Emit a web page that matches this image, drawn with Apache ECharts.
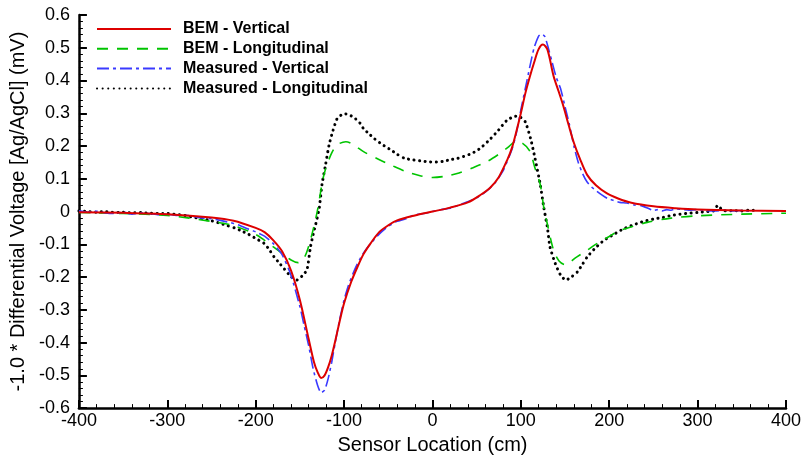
<!DOCTYPE html>
<html>
<head>
<meta charset="utf-8">
<script src="https://cdn.jsdelivr.net/npm/echarts@6/dist/echarts.min.js"></script>
<style>
html,body{margin:0;padding:0;background:#fff;}
#chart{width:805px;height:460px;}
</style>
</head>
<body>
<div id="chart"></div>
<script>
// ---- Data ----
const seriesNames = ['BEM - Vertical', 'BEM - Longitudinal', 'Measured - Vertical', 'Measured - Longitudinal'];

const bemVertX = [-400,-350,-300,-250,-225,-200,-190,-180,-170,-160,-150,-140,-134,-130,-126,-122,-118,-114,-110,-105,-100,-92,-85,-78,-70,-60,-50,-40,-20,0,20,40,55,65,75,85,90,95,100,105,110,115,120,125,130,137,143,148,154,160,167,175,185,197,210,225,250,275,300,350,400];
const bemVertY = [-0.002,-0.004,-0.008,-0.018,-0.028,-0.05,-0.063,-0.088,-0.122,-0.18,-0.27,-0.39,-0.46,-0.49,-0.508,-0.5,-0.475,-0.44,-0.395,-0.335,-0.28,-0.215,-0.17,-0.13,-0.097,-0.062,-0.042,-0.027,-0.012,0.0,0.012,0.028,0.052,0.072,0.105,0.16,0.195,0.245,0.30,0.36,0.41,0.455,0.495,0.51,0.495,0.414,0.365,0.323,0.265,0.21,0.16,0.112,0.08,0.056,0.04,0.027,0.016,0.01,0.006,0.003,0.002];

const bemLongX = [-400,-350,-300,-250,-225,-200,-190,-180,-170,-160,-152,-145,-140,-135,-130,-123,-115,-108,-98,-90,-78,-60,-47,-30,-15,0,15,30,45,62,75,85,94,102,110,116,122,126,130,137,143,150,163,175,186,200,212,243,270,300,350,400];
const bemLongY = [-0.003,-0.006,-0.012,-0.03,-0.043,-0.07,-0.088,-0.108,-0.128,-0.148,-0.156,-0.14,-0.105,-0.055,0.005,0.11,0.173,0.203,0.213,0.205,0.183,0.158,0.142,0.122,0.11,0.104,0.108,0.118,0.133,0.153,0.175,0.195,0.213,0.208,0.185,0.133,0.082,0.012,-0.038,-0.118,-0.15,-0.162,-0.139,-0.118,-0.098,-0.076,-0.058,-0.033,-0.02,-0.013,-0.008,-0.005];

const measVertX = [-400,-390,-380,-370,-360,-350,-340,-330,-320,-310,-300,-290,-280,-270,-260,-250,-240,-230,-220,-210,-200,-190,-180,-170,-160,-150,-145,-140,-135,-130,-126,-122,-118,-114,-110,-105,-100,-95,-90,-85,-80,-75,-70,-60,-50,-40,-30,-20,-10,0,10,20,30,40,50,60,70,80,90,95,100,105,110,115,120,123,127,131,135,140,145,150,155,160,165,170,175,180,186,192,198,205,212,220,228,236,244,250,255,260,265,270,275,280,290,300,310,320,330,340,350,357,363];
const measVertY = [0.002,-0.002,0.001,-0.004,-0.006,-0.002,-0.008,-0.004,-0.006,-0.01,-0.008,-0.012,-0.011,-0.015,-0.02,-0.022,-0.027,-0.033,-0.04,-0.052,-0.062,-0.075,-0.098,-0.132,-0.195,-0.29,-0.35,-0.41,-0.48,-0.53,-0.553,-0.545,-0.51,-0.46,-0.4,-0.33,-0.27,-0.225,-0.19,-0.16,-0.135,-0.115,-0.098,-0.068,-0.045,-0.03,-0.022,-0.01,-0.006,0.0,0.006,0.01,0.02,0.03,0.042,0.06,0.085,0.125,0.19,0.24,0.31,0.375,0.44,0.5,0.535,0.542,0.535,0.5,0.46,0.41,0.375,0.32,0.265,0.2,0.15,0.115,0.09,0.075,0.062,0.05,0.04,0.034,0.028,0.026,0.02,0.018,0.01,0.003,0.006,0.002,0.006,0.004,0.008,0.007,0.004,0.006,0.003,0.002,0.004,0.002,0.003,0.001,0.002];

const measLongX = [-400,-390,-380,-370,-360,-350,-340,-330,-320,-310,-300,-290,-280,-270,-260,-250,-240,-232,-224,-217,-209,-200,-190,-185,-179,-173,-168,-160,-153,-147,-142,-138,-135,-132,-128,-125,-121,-117,-113,-108,-103,-98,-92,-87,-82,-78,-72,-66,-57,-47,-40,-32,-23,-14,-5,5,13,20,28,35,45,54,63,73,84,94,99,105,111,116,122,126,130,133,139,145,151,157,164,170,175,184,194,205,216,228,239,250,261,270,280,290,300,310,318,323,328,335,340,350,357,363];
const measLongY = [0.002,0.0,-0.002,0.0,-0.003,-0.002,-0.004,-0.003,-0.005,-0.006,-0.006,-0.009,-0.012,-0.018,-0.022,-0.028,-0.036,-0.043,-0.05,-0.058,-0.068,-0.082,-0.098,-0.115,-0.139,-0.158,-0.174,-0.199,-0.209,-0.195,-0.178,-0.108,-0.07,-0.038,0.012,0.082,0.142,0.203,0.243,0.283,0.295,0.298,0.292,0.283,0.27,0.253,0.238,0.223,0.205,0.188,0.175,0.163,0.158,0.155,0.152,0.151,0.154,0.158,0.162,0.168,0.178,0.193,0.215,0.243,0.278,0.291,0.289,0.274,0.223,0.163,0.082,0.012,-0.048,-0.108,-0.159,-0.194,-0.209,-0.2,-0.184,-0.16,-0.139,-0.112,-0.088,-0.07,-0.053,-0.04,-0.03,-0.023,-0.018,-0.012,-0.008,-0.005,-0.003,0.0,0.002,0.019,0.004,0.002,0.003,0.002,0.004,0.004];

const xTicks = {min: -400, max: 400, step: 100};
const yTicks = {min: -0.6, max: 0.6, step: 0.1};

// ---- Build ----
function pairs(xs, ys){ return xs.map((x,i)=>[x, ys[i]]); }

const chart = echarts.init(document.getElementById('chart'), null, {renderer:'canvas'});
const FONT = 'Liberation Sans, Arial, sans-serif';

const axisCommon = {
  axisLine: {show:true, onZero:false, lineStyle:{color:'#000', width:2.5}},
  axisTick: {show:true, inside:true, length:8, lineStyle:{color:'#000', width:2}},
  minorTick: {show:true, splitNumber:5, length:4, lineStyle:{color:'#000', width:1}},
  splitLine: {show:false},
  axisLabel: {color:'#000', fontFamily:FONT, fontSize:18},
  nameTextStyle: {color:'#000', fontFamily:FONT, fontSize:20}
};

chart.setOption({
  animation:false,
  backgroundColor:'#fff',
  grid:{left:78, right:19, top:15, bottom:47, containLabel:false},
  legend:{
    orient:'vertical', left:96, top:21, padding:0,
    itemWidth:74, itemHeight:14, itemGap:3.8,
    itemStyle:{opacity:0},
    textStyle:{fontFamily:FONT, fontSize:16, fontWeight:'bold', color:'#000', lineHeight:16, padding:[0,0,0,7]},
    data: seriesNames
  },
  xAxis: Object.assign({}, axisCommon, {
    type:'value', min:xTicks.min, max:xTicks.max, interval:xTicks.step,
    name:'Sensor Location (cm)', nameLocation:'middle', nameGap:23,
    axisLabel:Object.assign({}, axisCommon.axisLabel, {margin:4})
  }),
  yAxis: Object.assign({}, axisCommon, {
    type:'value', min:yTicks.min, max:yTicks.max, interval:yTicks.step,
    name:'-1.0 * Differential Voltage [Ag/AgCl] (mV)', nameLocation:'middle', nameGap:43,
    axisLabel:Object.assign({}, axisCommon.axisLabel, {margin:9, formatter:v=>String(Math.round(v*10)/10)})
  }),
  series:[
    {name:seriesNames[0], type:'line', data:pairs(bemVertX,bemVertY), symbol:'none', smooth:0.3, z:4,
     lineStyle:{color:'#dd0000', width:2, type:'solid'}, itemStyle:{color:'#dd0000'}},
    {name:seriesNames[1], type:'line', data:pairs(bemLongX,bemLongY), symbol:'none', smooth:0.3, z:2,
     lineStyle:{color:'#00c400', width:1.6, type:[11,9]}, itemStyle:{color:'#00c400'}},
    {name:seriesNames[2], type:'line', data:pairs(measVertX,measVertY), symbol:'none', smooth:0.2, z:3,
     lineStyle:{color:'#3a3aff', width:1.6, type:[12,4,3,4]}, itemStyle:{color:'#3a3aff'}},
    {name:seriesNames[3], type:'line', data:pairs(measLongX,measLongY), symbol:'none', smooth:0.2, z:1,
     lineStyle:{color:'#000', width:3, type:[0.1,5.5], cap:'round'}, itemStyle:{color:'#000'}}
  ]
});
</script>
</body>
</html>
